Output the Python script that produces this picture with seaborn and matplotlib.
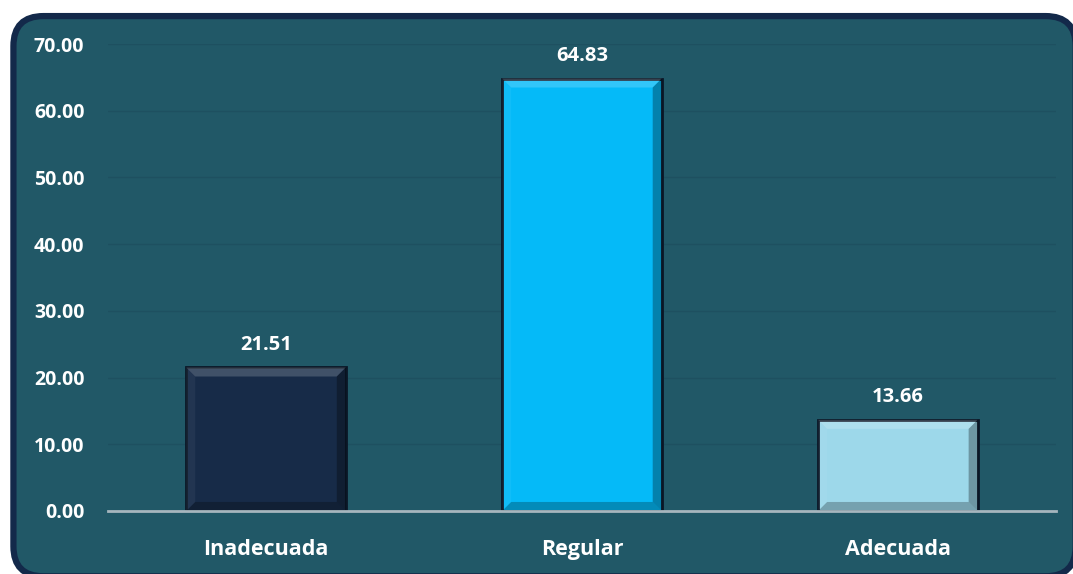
import matplotlib
matplotlib.use("Agg")
import matplotlib.pyplot as plt
import seaborn as sns
import pandas as pd
from matplotlib.patches import FancyBboxPatch, Polygon

# datos
categorias = ["Inadecuada", "Regular", "Adecuada"]
porcentajes = [21.51, 64.83, 13.66]
colores = ["#172B48", "#05BAF8", "#9DD8EA"]
ticks_y = [0, 10, 20, 30, 40, 50, 60, 70]

fondo = "#215867"
borde = "#13294A"

sns.set_theme(style="white")
plt.rcParams["font.family"] = ["Open Sans", "DejaVu Sans"]

df = pd.DataFrame({"categoria": categorias, "valor": porcentajes})

fig = plt.figure(figsize=(10.73, 5.74), dpi=100)
fig.patch.set_facecolor("white")

# marco redondeado
marco = FancyBboxPatch((0.0125, -0.004), 0.99, 0.976, boxstyle="round,pad=0,rounding_size=0.028",
                       transform=fig.transFigure, facecolor=fondo, edgecolor=borde,
                       linewidth=4.5, mutation_aspect=1.87, zorder=-5)
fig.patches.append(marco)

ax = fig.add_axes([0.1007, 0.1098, 0.8833, 0.8135])
ax.set_facecolor("none")
ax.set_zorder(2)

sns.barplot(data=df, x="categoria", y="valor", hue="categoria", palette=colores,
            saturation=1, width=0.505, edgecolor="#0A1626", linewidth=2,
            legend=False, ax=ax, zorder=3)

ax.set_ylim(0, 70)
ax.set_yticks(ticks_y)
ax.set_yticklabels([f"{t:.2f}" for t in ticks_y], color="white", fontsize=14, fontweight="bold")
ax.tick_params(axis="x", colors="white", labelsize=15.5, pad=20, length=0)
ax.tick_params(axis="y", length=0, pad=17)
for lbl in ax.get_xticklabels():
    lbl.set_fontweight("bold")
ax.set_xlabel("")
ax.set_ylabel("")

ax.yaxis.grid(True, color="#1E5060", linewidth=1)
ax.set_axisbelow(True)
for s in ["top", "right", "left"]:
    ax.spines[s].set_visible(False)
ax.spines["bottom"].set_color("#A6B6BE")
ax.spines["bottom"].set_linewidth(2)
ax.spines["bottom"].set_zorder(5)

# efecto biselado en las barras
fig.canvas.draw()
inv = ax.transData.inverted()
bisel = 9  # px
for p in list(ax.patches):
    x0, y0 = p.get_x(), p.get_y()
    x1, y1 = x0 + p.get_width(), y0 + p.get_height()
    (px0, py0) = ax.transData.transform((x0, y0))
    (px1, py1) = ax.transData.transform((x1, y1))
    ix0, iy0 = inv.transform((px0 + bisel, py0 + bisel))
    ix1, iy1 = inv.transform((px1 - bisel, py1 - bisel))
    caras = [
        ([(x0, y1), (x1, y1), (ix1, iy1), (ix0, iy1)], "white", 0.18),   # arriba
        ([(x0, y0), (x0, y1), (ix0, iy1), (ix0, iy0)], "white", 0.05),   # izquierda
        ([(x1, y0), (x1, y1), (ix1, iy1), (ix1, iy0)], "black", 0.30),   # derecha
        ([(x0, y0), (x1, y0), (ix1, iy0), (ix0, iy0)], "black", 0.25),   # abajo
    ]
    for pts, c, a in caras:
        ax.add_patch(Polygon(pts, closed=True, facecolor=c, alpha=a, edgecolor="none", zorder=4))

for i, v in enumerate(porcentajes):
    ax.annotate(f"{v:.2f}", (i, v), xytext=(0, 9), textcoords="offset points",
                ha="center", va="bottom", color="white", fontsize=14.5, fontweight="bold")

fig.savefig("out.png", dpi=100, facecolor=fig.get_facecolor())
